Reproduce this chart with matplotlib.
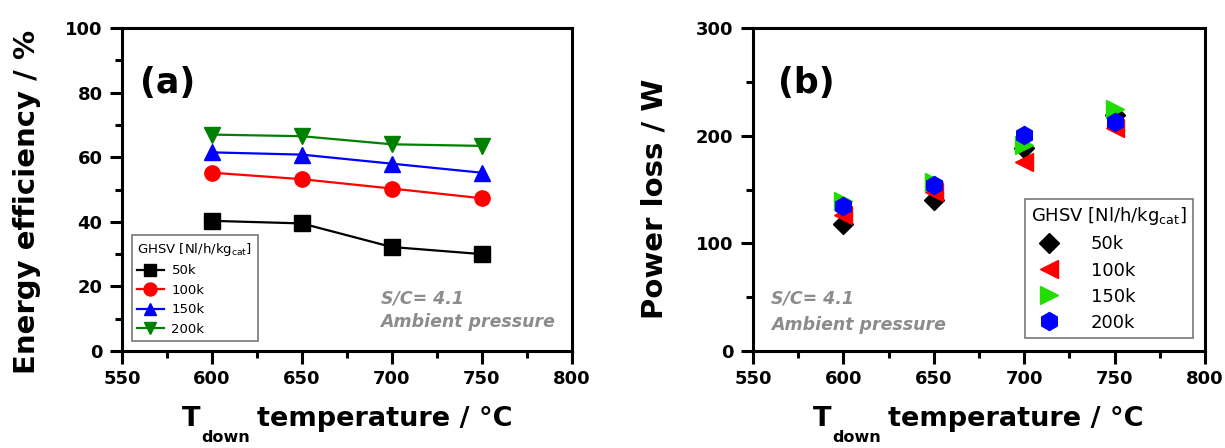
import matplotlib.pyplot as plt
from matplotlib.ticker import MultipleLocator

plt.rcParams['font.family'] = ['DejaVu Sans']
plt.rcParams['mathtext.fontset'] = 'dejavusans'

temps = [600, 650, 700, 750]
ghsv = ['50k', '100k', '150k', '200k']

# (a) energy efficiency, %
eff_50k = [40.3, 39.5, 32.2, 30.0]
eff_100k = [55.2, 53.2, 50.3, 47.3]
eff_150k = [61.5, 60.8, 58.0, 55.2]
eff_200k = [67.0, 66.5, 64.0, 63.5]

# (b) power loss, W
loss_50k = [118, 140, 189, 219]
loss_100k = [126, 148, 176, 207]
loss_150k = [139, 157, 191, 225]
loss_200k = [135, 154, 201, 213]

legend_title = r'GHSV [Nl/h/kg$_{\mathrm{cat}}$]'

fig = plt.figure(figsize=(12.25, 4.48), dpi=100)
ax_1 = fig.add_axes([0.0996, 0.2165, 0.367, 0.721])
ax_2 = fig.add_axes([0.6147, 0.2165, 0.369, 0.721])


def style_axes(ax, ymax, ymajor, yminor):
    ax.set_xlim(550, 800)
    ax.set_ylim(0, ymax)
    ax.xaxis.set_major_locator(MultipleLocator(50))
    ax.xaxis.set_minor_locator(MultipleLocator(25))
    ax.yaxis.set_major_locator(MultipleLocator(ymajor))
    ax.yaxis.set_minor_locator(MultipleLocator(yminor))
    for s in ax.spines.values():
        s.set_linewidth(2.2)
    ax.tick_params(which='major', direction='out', length=9, width=2.2,
                   labelsize=13, pad=5)
    ax.tick_params(which='minor', direction='out', length=5, width=2.2)
    for lab in ax.get_xticklabels() + ax.get_yticklabels():
        lab.set_fontweight('bold')

    # x label "T_down temperature / °C" with a deep subscript
    kw = dict(fontweight='bold', annotation_clip=False)
    t1 = ax.annotate('T', xy=(0.133, -0.232), xycoords='axes fraction',
                     ha='left', va='baseline', fontsize=19.5, **kw)
    t2 = ax.annotate('down', xy=(1, 0), xycoords=t1, xytext=(0.5, -7.5),
                     textcoords='offset points', ha='left', va='baseline',
                     fontsize=11.5, **kw)
    ax.annotate('temperature / °C', xy=(1, 0), xycoords=(t2, t1),
                xytext=(5, 0), textcoords='offset points', ha='left',
                va='bottom', fontsize=19.5, **kw)


# panel (a)
series_a = [(eff_50k, 'black', 's'), (eff_100k, 'red', 'o'),
            (eff_150k, 'blue', '^'), (eff_200k, 'green', 'v')]
for (vals, col, mk), name in zip(series_a, ghsv):
    ax_1.plot(temps, vals, color=col, marker=mk, markersize=11, lw=1.6,
              label=name)
style_axes(ax_1, 100, 20, 10)
ax_1.set_ylabel('Energy efficiency / %', fontsize=21, fontweight='bold')
ax_1.yaxis.set_label_coords(-0.18, 0.461)
ax_1.text(0.04, 0.80, '(a)', transform=ax_1.transAxes, fontsize=25,
          fontweight='bold')
ax_1.text(0.575, 0.075, 'S/C= 4.1\nAmbient pressure',
          transform=ax_1.transAxes, fontsize=12.5, fontweight='bold',
          style='italic', color='#8c8c8c', linespacing=1.4)
leg = ax_1.legend(title=legend_title, loc='lower left',
                  bbox_to_anchor=(0.022, 0.03), fontsize=9.5,
                  title_fontsize=9.5, fancybox=False, edgecolor='#555555',
                  handlelength=2.0, borderpad=0.4, labelspacing=0.5,
                  handletextpad=0.6, borderaxespad=0, markerscale=0.85)
leg.get_frame().set_linewidth(1.2)
leg._legend_box.align = 'left'

# panel (b)
series_b = [(loss_50k, 'black', 'D', 10), (loss_100k, 'red', '<', 13),
            (loss_150k, '#22dd00', '>', 13), (loss_200k, 'blue', 'h', 13)]
for (vals, col, mk, ms), name in zip(series_b, ghsv):
    ax_2.plot(temps, vals, color=col, marker=mk, markersize=ms, lw=0,
              label=name)
style_axes(ax_2, 300, 100, 50)
ax_2.set_ylabel('Power loss / W', fontsize=21, fontweight='bold')
ax_2.yaxis.set_label_coords(-0.188, 0.47)
ax_2.text(0.055, 0.80, '(b)', transform=ax_2.transAxes, fontsize=25,
          fontweight='bold')
ax_2.text(0.04, 0.065, 'S/C= 4.1\nAmbient pressure',
          transform=ax_2.transAxes, fontsize=12.5, fontweight='bold',
          style='italic', color='#8c8c8c', linespacing=1.6)
leg = ax_2.legend(title=legend_title, loc='lower right',
                  bbox_to_anchor=(0.973, 0.04), fontsize=13,
                  title_fontsize=13, fancybox=False, edgecolor='#555555',
                  handlelength=2.0, borderpad=0.35, labelspacing=0.45,
                  handletextpad=1.3, borderaxespad=0)
leg.get_frame().set_linewidth(1.2)
leg._legend_box.align = 'left'

fig.savefig('out.png', dpi=100)
